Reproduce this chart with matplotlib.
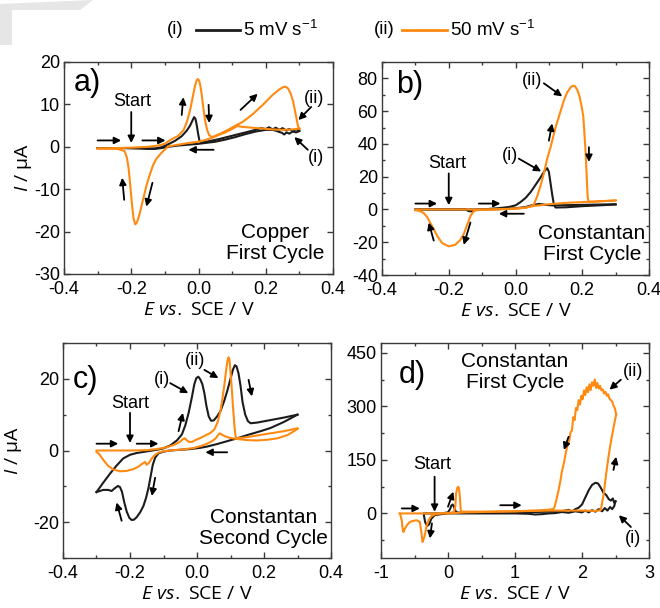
import matplotlib
matplotlib.use('Agg')
import matplotlib.pyplot as plt
from matplotlib.lines import Line2D
from matplotlib.patches import Polygon
from matplotlib.ticker import MultipleLocator, FormatStrFormatter

plt.rcParams['font.family'] = ['Liberation Sans', 'DejaVu Sans']
plt.rcParams['mathtext.fontset'] = 'custom'
plt.rcParams['mathtext.it'] = 'Open Sans:italic'
plt.rcParams['mathtext.rm'] = 'Liberation Sans'
plt.rcParams['axes.unicode_minus'] = False

# ---------------- data (E in V vs SCE, I in uA) ----------------
# panel a : copper, first cycle
a_black_fwd_E = [-0.30, -0.25, -0.20, -0.16, -0.13, -0.11, -0.09, -0.07, -0.05, -0.035, -0.025, -0.018, -0.013,
                 -0.009, -0.005, -0.001, 0.003, 0.008, 0.030, 0.060, 0.090, 0.120, 0.150, 0.170, 0.185, 0.200,
                 0.210, 0.220, 0.230, 0.240, 0.250, 0.260, 0.270, 0.280, 0.290, 0.300]
a_black_fwd_I = [-0.3, -0.3, -0.3, -0.3, -0.4, -0.1, 0.6, 1.4, 2.5, 3.8, 5.0, 6.2, 7.0,
                 6.6, 5.0, 3.0, 1.4, 1.0, 1.3, 1.8, 2.4, 3.0, 3.6, 4.0, 4.4, 4.2,
                 4.6, 4.1, 4.5, 4.0, 4.4, 3.9, 4.2, 3.8, 4.1, 3.9]
a_black_rev_E = [0.300, 0.290, 0.280, 0.270, 0.262, 0.255, 0.248, 0.240, 0.230, 0.220, 0.200, 0.170, 0.140, 0.110,
                 0.080, 0.050, 0.020, 0.000, -0.030, -0.060, -0.090, -0.110, -0.130, -0.150, -0.180, -0.220,
                 -0.260, -0.300]
a_black_rev_I = [3.7, 3.4, 3.6, 3.1, 3.4, 2.9, 3.3, 3.5, 3.8, 4.0, 4.0, 3.6, 3.0, 2.3,
                 1.7, 1.2, 0.9, 0.7, 0.5, 0.3, 0.0, -0.3, -0.5, -0.5, -0.4, -0.3,
                 -0.3, -0.3]
a_orange_fwd_E = [-0.30, -0.25, -0.20, -0.15, -0.12, -0.10, -0.084, -0.06, -0.044, -0.034, -0.024, -0.017, -0.011,
                  -0.006, -0.002, 0.002, 0.006, 0.010, 0.015, 0.020, 0.026, 0.032, 0.040, 0.050, 0.070, 0.090,
                  0.110, 0.130, 0.160, 0.190, 0.220, 0.240, 0.250, 0.258, 0.266, 0.274, 0.281, 0.287, 0.292,
                  0.296, 0.300]
a_orange_fwd_I = [-0.4, -0.3, -0.2, 0.0, 0.3, 0.7, 1.6, 2.6, 4.0, 6.0, 9.0, 11.8, 14.2,
                  15.6, 16.0, 15.6, 14.2, 12.0, 8.8, 6.0, 3.9, 2.7, 2.3, 2.6, 3.3, 4.1,
                  5.0, 5.8, 7.6, 9.8, 12.2, 13.5, 14.0, 14.2, 13.8, 12.6, 10.8, 8.5, 6.5,
                  4.8, 4.3]
a_orange_rev_E = [0.300, 0.280, 0.250, 0.220, 0.190, 0.160, 0.130, 0.115, 0.100, 0.080, 0.060, 0.040, 0.020,
                  0.000, -0.030, -0.060, -0.090, -0.110, -0.125, -0.135, -0.145, -0.155, -0.165, -0.175,
                  -0.183, -0.188, -0.193, -0.198, -0.203, -0.208, -0.213, -0.220, -0.240, -0.300]
a_orange_rev_I = [4.3, 4.1, 4.0, 4.1, 4.3, 4.5, 4.7, 4.9, 4.2, 3.4, 2.8, 2.1, 1.6,
                  1.2, 0.9, 0.5, 0.1, -1.4, -2.8, -4.3, -6.6, -9.2, -12.5, -15.8,
                  -17.8, -18.3, -17.0, -13.5, -9.0, -5.0, -2.5, -1.0, -0.5, -0.4]

# panel b : constantan, first cycle
b_black_fwd_E = [-0.30, -0.20, -0.15, -0.14, -0.13, -0.12, -0.10, -0.05, -0.02, 0.000, 0.015, 0.030, 0.045,
                 0.060, 0.075, 0.087, 0.095, 0.100, 0.105, 0.110, 0.115, 0.120, 0.150, 0.200, 0.250, 0.300]
b_black_fwd_I = [0.0, 0.0, 0.0, -1.0, -1.2, -0.3, 0.0, 0.8, 1.5, 2.5, 4.5, 7.0, 10.5,
                 15.0, 19.5, 23.5, 25.2, 23.0, 16.0, 9.0, 3.0, 1.2, 1.3, 2.0, 2.5, 3.0]
b_black_rev_E = [0.300, 0.250, 0.200, 0.150, 0.110, 0.090, 0.070, 0.050, 0.030, 0.000, -0.050, -0.100,
                 -0.200, -0.300]
b_black_rev_I = [3.2, 3.0, 2.8, 2.6, 2.5, 2.8, 3.4, 2.6, 1.5, 0.7, 0.2, 0.0,
                 0.0, 0.0]
b_orange_fwd_E = [-0.30, -0.20, -0.10, -0.05, 0.000, 0.030, 0.045, 0.055, 0.065, 0.075, 0.085, 0.095, 0.105,
                  0.120, 0.135, 0.145, 0.155, 0.165, 0.172, 0.178, 0.185, 0.192, 0.198, 0.203, 0.207, 0.210,
                  0.213, 0.216, 0.219, 0.225, 0.250, 0.300]
b_orange_fwd_I = [0.0, 0.0, 0.0, 0.2, 0.5, 1.0, 1.8, 3.0, 8.0, 14.5, 22.0, 31.0, 38.0,
                  50.0, 60.0, 66.5, 71.5, 74.5, 75.5, 75.3, 73.0, 69.0, 63.0, 57.0, 45.0, 35.0,
                  22.0, 8.0, 4.8, 4.6, 4.9, 5.5]
b_orange_rev_E = [0.300, 0.250, 0.200, 0.150, 0.100, 0.070, 0.050, 0.030, 0.000, -0.050, -0.100, -0.115,
                  -0.125, -0.135, -0.145, -0.155, -0.165, -0.180, -0.200, -0.220, -0.235, -0.245, -0.256,
                  -0.265, -0.276, -0.290, -0.300]
b_orange_rev_I = [5.5, 5.0, 4.5, 4.0, 3.2, 2.5, 2.0, 1.2, 0.5, 0.0, -0.2, -0.4,
                  -1.0, -4.0, -9.5, -15.0, -18.5, -21.5, -22.5, -20.5, -16.0, -12.0, -8.0,
                  -4.5, -2.0, -0.8, -0.5]

# panel c : constantan, second cycle
c_black_fwd_E = [-0.300, -0.280, -0.260, -0.240, -0.220, -0.200, -0.180, -0.160, -0.140, -0.120, -0.100,
                 -0.080, -0.060, -0.045, -0.035, -0.025, -0.015, -0.008, -0.002, 0.004, 0.010, 0.016, 0.022,
                 0.028, 0.035, 0.042, 0.050, 0.060, 0.070, 0.080, 0.090, 0.100, 0.107, 0.113, 0.118, 0.124,
                 0.130, 0.136, 0.144, 0.152, 0.160, 0.180, 0.220, 0.260, 0.300]
c_black_fwd_I = [-11.6, -9.0, -6.5, -4.2, -2.2, -1.2, -0.7, -0.4, -0.1, 0.2, 0.6,
                 1.4, 2.8, 4.5, 7.0, 10.5, 15.0, 18.5, 20.2, 20.6, 19.8, 18.5, 16.0,
                 12.5, 9.5, 8.3, 8.4, 9.5, 11.0, 13.5, 16.5, 20.0, 22.5, 23.8, 23.5, 21.5,
                 18.0, 13.5, 10.0, 8.2, 7.6, 7.8, 8.5, 9.2, 10.0]
c_black_rev_E = [0.300, 0.260, 0.220, 0.190, 0.150, 0.120, 0.090, 0.060, 0.030, 0.010, -0.020, -0.050,
                 -0.080, -0.100, -0.115, -0.125, -0.132, -0.138, -0.145, -0.152, -0.160, -0.170, -0.180,
                 -0.188, -0.195, -0.202, -0.210, -0.217, -0.224, -0.230, -0.236, -0.245, -0.255, -0.265,
                 -0.280, -0.300]
c_black_rev_I = [10.0, 8.0, 6.3, 5.4, 4.3, 3.4, 2.6, 1.8, 1.1, 0.75, 0.4, 0.2,
                 0.0, -0.3, -0.8, -2.0, -4.0, -7.0, -10.5, -13.2, -15.5, -17.3, -18.6,
                 -19.3, -19.4, -18.8, -17.0, -14.5, -11.5, -10.2, -9.9, -10.5, -11.3, -11.0,
                 -11.0, -11.6]
c_orange_fwd_E = [-0.300, -0.250, -0.200, -0.150, -0.120, -0.090, -0.065, -0.050, -0.042, -0.036, -0.030,
                  -0.024, -0.015, -0.005, 0.010, 0.025, 0.040, 0.052, 0.062, 0.070, 0.076, 0.082, 0.087,
                  0.091, 0.094, 0.097, 0.100, 0.104, 0.108, 0.112, 0.115, 0.118, 0.140, 0.180, 0.220,
                  0.260, 0.300]
c_orange_fwd_I = [0.0, 0.0, 0.0, 0.1, 0.4, 0.9, 1.7, 2.5, 3.2, 3.4, 2.8,
                  2.4, 2.4, 2.9, 3.5, 4.2, 4.9, 5.9, 8.0, 11.0, 14.5, 18.5, 22.5,
                  25.0, 26.0, 25.3, 22.0, 17.0, 11.5, 6.5, 4.0, 3.4, 3.6, 4.2, 4.8,
                  5.4, 6.2]
c_orange_rev_E = [0.300, 0.270, 0.240, 0.210, 0.180, 0.150, 0.120, 0.100, 0.085, 0.075, 0.068, 0.062,
                  0.055, 0.045, 0.030, 0.010, -0.010, -0.040, -0.070, -0.100, -0.115, -0.125, -0.135,
                  -0.143, -0.150, -0.155, -0.162, -0.175, -0.190, -0.210, -0.230, -0.250, -0.265, -0.280,
                  -0.292, -0.300]
c_orange_rev_I = [6.0, 4.3, 3.4, 3.0, 2.8, 2.9, 3.2, 3.5, 3.9, 4.4, 4.8, 4.2,
                  3.3, 2.6, 1.9, 1.2, 0.7, 0.3, 0.1, -0.2, -0.6, -1.2, -2.2,
                  -3.4, -4.0, -3.2, -3.6, -4.5, -5.2, -5.7, -5.8, -5.3, -4.3, -2.6,
                  -1.0, -0.4]

# panel d : constantan, first cycle, wide window
d_black_fwd_E = [-0.36, -0.30, -0.20, -0.10, 0.00, 0.03, 0.05, 0.07, 0.09, 0.11, 0.13, 0.20, 0.50, 1.00,
                 1.30, 1.50, 1.70, 1.80, 1.85, 1.90, 1.95, 2.00, 2.05, 2.10, 2.15, 2.20, 2.24, 2.28, 2.32,
                 2.36, 2.40, 2.43, 2.46, 2.48, 2.50]
d_black_fwd_I = [0, 0, 0, 0, 3, 12, 22, 25, 18, 8, 3, 2, 2, 3,
                 4, 5, 6, 10, 5, 12, 16, 25, 45, 65, 80, 86, 84, 72, 58,
                 52, 40, 36, 42, 30, 34]
d_black_rev_E = [2.50, 2.48, 2.45, 2.42, 2.38, 2.34, 2.30, 2.25, 2.20, 2.15, 2.10, 2.05, 2.00, 1.90,
                 1.80, 1.70, 1.60, 1.50, 1.40, 1.30, 1.20, 1.00, 0.50, 0.20, 0.00, -0.10, -0.20, -0.25,
                 -0.28, -0.31, -0.34, -0.36]
d_black_rev_I = [34, 20, 12, 18, 8, 15, 6, 12, 5, 9, 3, 8, 3, 6,
                 2, 4, 1, 0, -2, -3, -1, 0, 0, 0, 0, -2, -5, -15,
                 -30, -35, -25, -5]
d_orange_fwd_E = [-0.72, -0.50, -0.20, 0.00, 0.05, 0.09, 0.11, 0.12, 0.14, 0.15, 0.165, 0.18, 0.19, 0.20,
                  0.50, 1.00, 1.50, 2.00, 2.20, 2.28, 2.32, 2.36, 2.40, 2.44, 2.48, 2.51]
d_orange_fwd_I = [0, 0, 0, 1, 2, 5, 20, 55, 72, 75, 70, 40, 10, 5,
                  5, 6, 8, 8, 7, 9, 50, 110, 165, 210, 250, 278]
d_orange_rev_E = [2.51, 2.49, 2.47, 2.45, 2.43, 2.41, 2.39, 2.37, 2.35, 2.33, 2.31, 2.29, 2.27, 2.25,
                  2.23, 2.21, 2.19, 2.17, 2.15, 2.13, 2.11, 2.09, 2.07, 2.05, 2.03, 2.01, 1.99, 1.97,
                  1.95, 1.93, 1.91, 1.89, 1.87, 1.85, 1.83, 1.81, 1.79, 1.77, 1.75, 1.73, 1.70, 1.68,
                  1.65, 1.62, 1.59, 1.57, 1.40, 1.00, 0.50, 0.25, 0.10, 0.00, -0.10, -0.20, -0.25,
                  -0.29, -0.32, -0.34, -0.36, -0.38, -0.40, -0.42, -0.47, -0.52, -0.57, -0.62, -0.65,
                  -0.665, -0.68, -0.69, -0.71, -0.72]
d_orange_rev_I = [278, 295, 302, 314, 318, 322, 334, 330, 341, 336, 348, 345, 358, 350,
                  366, 352, 376, 358, 368, 346, 362, 340, 354, 332, 345, 320, 330, 305,
                  318, 290, 296, 262, 270, 232, 228, 205, 195, 180, 162, 141, 118, 94,
                  65, 40, 18, 12, 9, 6, 4, 3, 1, 0, 0, -3, -8,
                  -19, -35, -56, -70, -80, -50, -24, -19, -21, -24, -35, -45,
                  -52, -40, -19, -5, 0]

legend_labels = ['(i)', '5 mV s$^{-1}$', '(ii)', '50 mV s$^{-1}$']

# ---------------- styling ----------------
ORANGE = '#ff8a12'
BLACK = '#1c1c1c'
W, H = 660.0, 608.0
fig = plt.figure(figsize=(6.6, 6.08), dpi=100)
fig.patch.set_facecolor('white')

# faint watermark shape top-left
fig.patches.append(Polygon([(0, 1 - 4 / H), (93 / W, 1.0), (93 / W, 1.0), (80 / W, 1 - 10 / H),
                            (12 / W, 1 - 10 / H), (12 / W, 1 - 45 / H), (0, 1 - 45 / H)],
                           closed=True, transform=fig.transFigure, facecolor='#e6e6e6',
                           edgecolor='none', zorder=0))

TICK_FS = 13
NOTE_FS = 13
CAP_FS = 15
LET_FS = 22
LAB_FS = 14


def add_ax(l, t, r, b):
    return fig.add_axes([l / W, 1 - b / H, (r - l) / W, (b - t) / H])


def style(ax, xlim, xmaj, xmin, xfmt, ylim, ymaj, ymin):
    ax.set_xlim(xlim)
    ax.set_ylim(ylim)
    ax.xaxis.set_major_locator(MultipleLocator(xmaj))
    ax.xaxis.set_minor_locator(MultipleLocator(xmin))
    ax.yaxis.set_major_locator(MultipleLocator(ymaj))
    ax.yaxis.set_minor_locator(MultipleLocator(ymin))
    ax.xaxis.set_major_formatter(FormatStrFormatter(xfmt))
    ax.yaxis.set_major_formatter(FormatStrFormatter('%d'))
    ax.tick_params(which='both', direction='in', top=True, right=True, color='#3a3a3a',
                   labelsize=TICK_FS)
    ax.tick_params(axis='x', which='major', pad=5)
    ax.tick_params(axis='y', which='major', pad=3)
    ax.tick_params(which='major', length=4.5, width=1.0)
    ax.tick_params(which='minor', length=2.5, width=1.0)
    for s in ax.spines.values():
        s.set_color('#3a3a3a')
        s.set_linewidth(1.0)


def arrow(ax, tail, head):
    ax.annotate('', xy=head, xytext=tail,
                arrowprops=dict(arrowstyle='-|>', color='black', lw=1.3, mutation_scale=10,
                                shrinkA=0, shrinkB=0))


XLAB = r'$E\ vs.$ SCE / V'
YLAB = r'$I$ / μA'
lab_kw = dict(fontsize=LAB_FS, family=['Open Sans', 'DejaVu Sans'])
LW = 1.5

# ---- panel a ----
ax = add_ax(64, 62, 333, 274)
style(ax, (-0.4, 0.4), 0.2, 0.1, '%.1f', (-30, 20), 10, 10)
ax.plot(a_black_fwd_E, a_black_fwd_I, color=BLACK, lw=LW)
ax.plot(a_black_rev_E, a_black_rev_I, color=BLACK, lw=LW)
ax.plot(a_orange_fwd_E, a_orange_fwd_I, color=ORANGE, lw=LW)
ax.plot(a_orange_rev_E, a_orange_rev_I, color=ORANGE, lw=LW)
ax.set_xlabel(XLAB, labelpad=2, **lab_kw)
ax.set_ylabel(YLAB, labelpad=0, **lab_kw)
ax.text(-0.33, 15.0, 'a)', fontsize=LET_FS, ha='center', va='center')
ax.text(-0.197, 10.6, 'Start', fontsize=NOTE_FS, ha='center', va='center')
ax.text(0.345, 11.5, '(ii)', fontsize=NOTE_FS, ha='center', va='center')
ax.text(0.35, -2.6, '(i)', fontsize=NOTE_FS, ha='center', va='center')
ax.text(0.228, -22.7, 'Copper\nFirst Cycle', fontsize=CAP_FS, ha='center', va='center',
        linespacing=1.1)
arrow(ax, (-0.20, 8.2), (-0.20, 0.9))
arrow(ax, (-0.30, 1.5), (-0.23, 1.5))
arrow(ax, (-0.167, 1.5), (-0.098, 1.5))
arrow(ax, (0.045, -0.7), (-0.03, -0.7))
arrow(ax, (-0.05, 7.5), (-0.045, 11.7))
arrow(ax, (0.03, 9.9), (0.032, 5.6))
arrow(ax, (0.125, 8.7), (0.176, 12.5))
arrow(ax, (-0.221, -12.5), (-0.227, -7.3))
arrow(ax, (-0.137, -8.5), (-0.155, -14.1))
arrow(ax, (0.335, 9.4), (0.297, 6.3))
arrow(ax, (0.325, -0.7), (0.285, 2.3))

# ---- panel b ----
ax = add_ax(382, 62, 649, 275)
style(ax, (-0.4, 0.4), 0.2, 0.1, '%.1f', (-40, 90), 20, 10)
ax.plot(b_black_fwd_E, b_black_fwd_I, color=BLACK, lw=LW)
ax.plot(b_black_rev_E, b_black_rev_I, color=BLACK, lw=LW)
ax.plot(b_orange_fwd_E, b_orange_fwd_I, color=ORANGE, lw=LW)
ax.plot(b_orange_rev_E, b_orange_rev_I, color=ORANGE, lw=LW)
ax.set_xlabel(XLAB, labelpad=2, **lab_kw)
ax.text(-0.316, 76, 'b)', fontsize=LET_FS, ha='center', va='center')
ax.text(-0.205, 28.3, 'Start', fontsize=NOTE_FS, ha='center', va='center')
ax.text(-0.015, 33, '(i)', fontsize=NOTE_FS, ha='center', va='center')
ax.text(0.05, 79, '(ii)', fontsize=NOTE_FS, ha='center', va='center')
ax.text(0.229, -21.2, 'Constantan\nFirst Cycle', fontsize=CAP_FS, ha='center', va='center',
        linespacing=1.1)
arrow(ax, (-0.20, 22), (-0.20, 2.6))
arrow(ax, (-0.30, 3.6), (-0.235, 3.6))
arrow(ax, (-0.11, 3.6), (-0.045, 3.6))
arrow(ax, (0.025, -2.6), (-0.05, -2.6))
arrow(ax, (0.10, 42), (0.11, 52.5))
arrow(ax, (0.22, 38), (0.22, 29))
arrow(ax, (-0.245, -19), (-0.26, -8))
arrow(ax, (-0.135, -8), (-0.155, -21.6))
arrow(ax, (0.01, 31), (0.077, 23.2))
arrow(ax, (0.085, 77), (0.14, 69))

# ---- panel c ----
ax = add_ax(63, 343, 331, 558)
style(ax, (-0.4, 0.4), 0.2, 0.1, '%.1f', (-30, 30), 20, 10)
ax.plot(c_black_fwd_E, c_black_fwd_I, color=BLACK, lw=LW)
ax.plot(c_black_rev_E, c_black_rev_I, color=BLACK, lw=LW)
ax.plot(c_orange_fwd_E, c_orange_fwd_I, color=ORANGE, lw=LW)
ax.plot(c_orange_rev_E, c_orange_rev_I, color=ORANGE, lw=LW)
ax.set_xlabel(XLAB, labelpad=2, **lab_kw)
ax.set_ylabel(YLAB, labelpad=6, **lab_kw)
ax.text(-0.334, 19.7, 'c)', fontsize=LET_FS, ha='center', va='center')
ax.text(-0.2, 13.2, 'Start', fontsize=NOTE_FS, ha='center', va='center')
ax.text(-0.105, 19.7, '(i)', fontsize=NOTE_FS, ha='center', va='center')
ax.text(-0.005, 25, '(ii)', fontsize=NOTE_FS, ha='center', va='center')
ax.text(0.198, -21.6, 'Constantan\nSecond Cycle', fontsize=CAP_FS, ha='center', va='center',
        linespacing=1.1)
arrow(ax, (-0.2, 10.5), (-0.2, 2.1))
arrow(ax, (-0.30, 1.9), (-0.235, 1.9))
arrow(ax, (-0.18, 1.9), (-0.115, 1.9))
arrow(ax, (0.09, -0.5), (0.025, -0.5))
arrow(ax, (-0.055, 5.4), (-0.042, 10.5))
arrow(ax, (-0.125, -7.6), (-0.135, -12.7))
arrow(ax, (-0.225, -19.6), (-0.24, -14.5))
arrow(ax, (0.154, 19.7), (0.164, 15.1))
arrow(ax, (-0.08, 18.8), (-0.026, 16))
arrow(ax, (0.022, 22.5), (0.064, 20.2))

# ---- panel d ----
ax = add_ax(381, 343, 649, 558)
style(ax, (-1, 3), 1, 0.5, '%d', (-125, 478), 150, 75)
ax.plot(d_black_fwd_E, d_black_fwd_I, color=BLACK, lw=LW)
ax.plot(d_black_rev_E, d_black_rev_I, color=BLACK, lw=LW)
ax.plot(d_orange_fwd_E, d_orange_fwd_I, color=ORANGE, lw=LW)
ax.plot(d_orange_rev_E, d_orange_rev_I, color=ORANGE, lw=LW)
ax.set_xlabel(XLAB, labelpad=2, **lab_kw)
ax.text(-0.54, 389, 'd)', fontsize=LET_FS, ha='center', va='center')
ax.text(-0.243, 136, 'Start', fontsize=NOTE_FS, ha='center', va='center')
ax.text(2.76, 398, '(ii)', fontsize=NOTE_FS, ha='center', va='center')
ax.text(2.76, -70, '(i)', fontsize=NOTE_FS, ha='center', va='center')
ax.text(1.0, 396, 'Constantan\nFirst Cycle', fontsize=CAP_FS, ha='center', va='center',
        linespacing=1.1)
arrow(ax, (-0.2, 103), (-0.2, 4.5))
arrow(ax, (-0.69, 14), (-0.42, 14))
arrow(ax, (0.78, 23), (1.1, 23))
arrow(ax, (-0.24, -28), (-0.27, -70))
arrow(ax, (0.0, 19), (0.08, 61))
arrow(ax, (1.8, 215), (1.73, 178))
arrow(ax, (2.47, 122), (2.51, 159))
arrow(ax, (2.58, 375), (2.41, 347))
arrow(ax, (2.73, -38), (2.55, -5))

# ---- legend at top ----
ly = 1 - 30 / H
LEG_FS = 13.5
fig.text(175 / W, ly, legend_labels[0], fontsize=LEG_FS, ha='center', va='center')
fig.add_artist(Line2D([196 / W, 240 / W], [ly, ly], color=BLACK, lw=2.0, transform=fig.transFigure))
fig.text(243 / W, ly, legend_labels[1], fontsize=LEG_FS, ha='left', va='center')
fig.text(384 / W, ly, legend_labels[2], fontsize=LEG_FS, ha='center', va='center')
fig.add_artist(Line2D([402 / W, 447 / W], [ly, ly], color=ORANGE, lw=2.0, transform=fig.transFigure))
fig.text(450 / W, ly, legend_labels[3], fontsize=LEG_FS, ha='left', va='center')

fig.savefig('out.png', dpi=100)
